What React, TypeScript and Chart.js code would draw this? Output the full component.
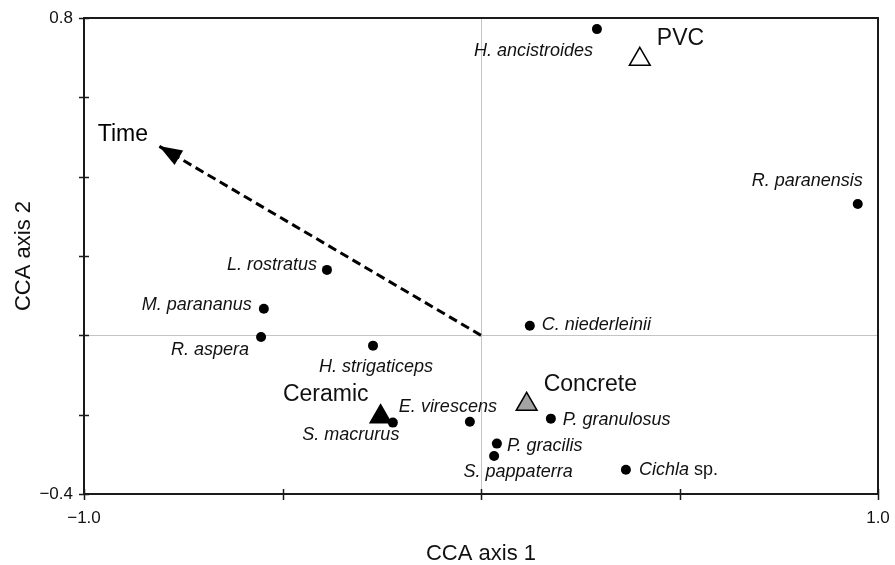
import React, { useEffect, useRef } from 'react';
import { Chart, registerables } from 'chart.js';

Chart.register(...registerables);

const FONT = "'Liberation Sans', Arial, Helvetica, sans-serif";

// ---- data ----
const speciesNames = [
  'H. ancistroides', 'R. paranensis', 'L. rostratus', 'M. parananus', 'R. aspera',
  'H. strigaticeps', 'S. macrurus', 'E. virescens', 'C. niederleinii', 'P. granulosus',
  'P. gracilis', 'S. pappaterra', 'Cichla sp.',
];
const speciesAxis1 = [0.292, 0.949, -0.388, -0.547, -0.554, -0.272, -0.222, -0.028, 0.123, 0.176, 0.040, 0.033, 0.365];
const speciesAxis2 = [0.772, 0.331, 0.165, 0.067, -0.004, -0.026, -0.220, -0.218, 0.024, -0.210, -0.273, -0.304, -0.339];

const substrateNames = ['PVC', 'Concrete', 'Ceramic'];
const substrateAxis1 = [0.400, 0.115, -0.253];
const substrateAxis2 = [0.696, -0.174, -0.205];

const vectorNames = ['Time'];
const vectorAxis1 = [-0.811];
const vectorAxis2 = [0.477];

const xTickLabels = ['\u22121.0', '', '', '', '1.0'];
const yTickLabels = ['\u22120.4', '', '', '', '', '', '0.8'];

// ---- label placement (style only) ----
const speciesLabelPlacement = [
  { align: 'right', dx: -4, dy: 22 },
  { align: 'right', dx: 5, dy: -23 },
  { align: 'right', dx: -10, dy: -5 },
  { align: 'right', dx: -12, dy: -4 },
  { align: 'right', dx: -12, dy: 13 },
  { align: 'center', dx: 3, dy: 21 },
  { align: 'center', dx: -42, dy: 12 },
  { align: 'center', dx: -22, dy: -15 },
  { align: 'left', dx: 12, dy: -1 },
  { align: 'left', dx: 12, dy: 1 },
  { align: 'left', dx: 10, dy: 2 },
  { align: 'center', dx: 24, dy: 16 },
  { align: 'left', dx: 13, dy: 0 },
];
const substrateLabelPlacement = [
  { align: 'left', dx: 17, dy: -21 },
  { align: 'left', dx: 17, dy: -20 },
  { align: 'right', dx: -12, dy: -22 },
];
const vectorLabelPlacement = [{ align: 'right', dx: -11, dy: -11 }];
const substrateFills = ['#ffffff', '#a3a3a3', '#000000'];

function drawMixedLabel(ctx: CanvasRenderingContext2D, text: string, x: number, y: number, align: string, size: number) {
  // italic genus/species, upright " sp."
  let italicPart = text;
  let normalPart = '';
  const m = text.match(/^(.*?)( sp\.)$/);
  if (m) { italicPart = m[1]; normalPart = m[2]; }
  const fi = `italic ${size}px ${FONT}`;
  const fn = `${size}px ${FONT}`;
  ctx.font = fi;
  const wi = ctx.measureText(italicPart).width;
  ctx.font = fn;
  const wn = normalPart ? ctx.measureText(normalPart).width : 0;
  const total = wi + wn;
  let left = x;
  if (align === 'right') left = x - total;
  else if (align === 'center') left = x - total / 2;
  ctx.textAlign = 'left';
  ctx.textBaseline = 'middle';
  ctx.font = fi;
  ctx.fillText(italicPart, left, y);
  if (normalPart) {
    ctx.font = fn;
    ctx.fillText(normalPart, left + wi, y);
  }
}

const ordinationPlugin = {
  id: 'ordinationDecor',
  afterDatasetsDraw(chart: any) {
    const ctx: CanvasRenderingContext2D = chart.ctx;
    const xs = chart.scales.x;
    const ys = chart.scales.y;
    const area = chart.chartArea;
    ctx.save();
    // frame
    ctx.strokeStyle = '#1a1a1a';
    ctx.lineWidth = 2;
    ctx.strokeRect(area.left, area.top, area.right - area.left, area.bottom - area.top);
    // crossing tick marks
    ctx.lineWidth = 1.5;
    ctx.beginPath();
    xs.ticks.forEach((t: any) => {
      const px = Math.round(xs.getPixelForValue(t.value)) + 0.5;
      ctx.moveTo(px, area.bottom - 5);
      ctx.lineTo(px, area.bottom + 6);
    });
    ys.ticks.forEach((t: any) => {
      const py = Math.round(ys.getPixelForValue(t.value)) + 0.5;
      ctx.moveTo(area.left - 5, py);
      ctx.lineTo(area.left + 5, py);
    });
    ctx.stroke();

    // arrow heads for vectors
    ctx.fillStyle = '#000';
    vectorAxis1.forEach((vx, i) => {
      const ox = xs.getPixelForValue(0);
      const oy = ys.getPixelForValue(0);
      const tx = xs.getPixelForValue(vx);
      const ty = ys.getPixelForValue(vectorAxis2[i]);
      const ang = Math.atan2(ty - oy, tx - ox);
      const len = 23;
      const half = 8.5;
      const bx = tx - Math.cos(ang) * len;
      const by = ty - Math.sin(ang) * len;
      ctx.beginPath();
      ctx.moveTo(tx, ty);
      ctx.lineTo(bx + Math.sin(ang) * half, by - Math.cos(ang) * half);
      ctx.lineTo(bx - Math.sin(ang) * half, by + Math.cos(ang) * half);
      ctx.closePath();
      ctx.fill();
      const p = vectorLabelPlacement[i];
      ctx.font = `23px ${FONT}`;
      ctx.textAlign = p.align as CanvasTextAlign;
      ctx.textBaseline = 'middle';
      ctx.fillText(vectorNames[i], tx + p.dx, ty + p.dy);
    });

    // species labels
    ctx.fillStyle = '#111';
    speciesNames.forEach((name, i) => {
      const px = xs.getPixelForValue(speciesAxis1[i]);
      const py = ys.getPixelForValue(speciesAxis2[i]);
      const p = speciesLabelPlacement[i];
      drawMixedLabel(ctx, name, px + p.dx, py + p.dy, p.align, 18);
    });

    // substrate labels
    substrateNames.forEach((name, i) => {
      const px = xs.getPixelForValue(substrateAxis1[i]);
      const py = ys.getPixelForValue(substrateAxis2[i]);
      const p = substrateLabelPlacement[i];
      ctx.font = `23px ${FONT}`;
      ctx.textAlign = p.align as CanvasTextAlign;
      ctx.textBaseline = 'middle';
      ctx.fillText(name, px + p.dx, py + p.dy);
    });
    ctx.restore();
  },
};

export default function App() {
  const canvasRef = useRef<HTMLCanvasElement | null>(null);

  useEffect(() => {
    document.body.style.margin = '0';
    const canvas = canvasRef.current;
    if (!canvas) return;

    const speciesPoints = speciesAxis1.map((x, i) => ({ x, y: speciesAxis2[i] }));
    const substratePoints = substrateAxis1.map((x, i) => ({ x, y: substrateAxis2[i] }));

    const chart = new Chart(canvas, {
      type: 'scatter',
      data: {
        datasets: [
          {
            label: 'Species',
            data: speciesPoints,
            pointStyle: 'circle',
            pointRadius: 5,
            backgroundColor: '#000',
            borderWidth: 0,
          },
          {
            label: 'Substrate',
            data: substratePoints,
            pointStyle: 'triangle',
            pointRadius: 12,
            backgroundColor: substrateFills,
            borderColor: '#000',
            borderWidth: 1.5,
          },
          {
            label: 'Time',
            data: [{ x: 0, y: 0 }, { x: vectorAxis1[0], y: vectorAxis2[0] }],
            showLine: true,
            borderColor: '#000',
            borderWidth: 3,
            borderDash: [9, 5],
            pointRadius: 0,
          },
        ],
      },
      options: {
        animation: false,
        responsive: false,
        maintainAspectRatio: false,
        events: [],
        layout: { padding: { top: 18, right: 17, left: 0, bottom: 0 } },
        plugins: {
          legend: { display: false },
          tooltip: { enabled: false },
        },
        scales: {
          x: {
            type: 'linear',
            min: -1,
            max: 1,
            afterFit: (s: any) => { s.height = 71; s.paddingLeft = 0; s.paddingRight = 0; },
            ticks: {
              stepSize: 0.5,
              autoSkip: false,
              maxRotation: 0,
              padding: 14,
              color: '#111',
              font: { size: 17, family: FONT },
              callback: (_v: any, idx: number) => xTickLabels[idx] ?? '',
            },
            grid: {
              drawTicks: false,
              lineWidth: 1,
              color: (c: any) => (c.tick && Math.abs(c.tick.value) < 1e-9 ? '#c4c4c4' : 'rgba(0,0,0,0)'),
            },
            border: { display: false },
            title: {
              display: true,
              text: 'CCA axis 1',
              color: '#111',
              font: { size: 22, family: FONT, lineHeight: 1 },
              padding: { top: 0, bottom: 0 },
            },
          },
          y: {
            type: 'linear',
            min: -0.4,
            max: 0.8,
            afterFit: (s: any) => { s.width = 84; s.paddingTop = 0; s.paddingBottom = 0; },
            ticks: {
              stepSize: 0.2,
              autoSkip: false,
              padding: 11,
              color: '#111',
              font: { size: 17, family: FONT },
              callback: (_v: any, idx: number) => yTickLabels[idx] ?? '',
            },
            grid: {
              drawTicks: false,
              lineWidth: 1,
              color: (c: any) => (c.tick && Math.abs(c.tick.value) < 1e-9 ? '#c4c4c4' : 'rgba(0,0,0,0)'),
            },
            border: { display: false },
            title: {
              display: true,
              text: 'CCA axis 2',
              color: '#111',
              font: { size: 22, family: FONT, lineHeight: 1 },
              padding: { top: 13, bottom: 0 },
            },
          },
        },
      },
      plugins: [ordinationPlugin],
    } as any);

    return () => chart.destroy();
  }, []);

  return (
    <div style={{ position: 'fixed', left: 0, top: 0, width: 895, height: 565, background: '#fff' }}>
      <canvas ref={canvasRef} width={895} height={565} style={{ display: 'block', width: 895, height: 565 }} />
    </div>
  );
}
